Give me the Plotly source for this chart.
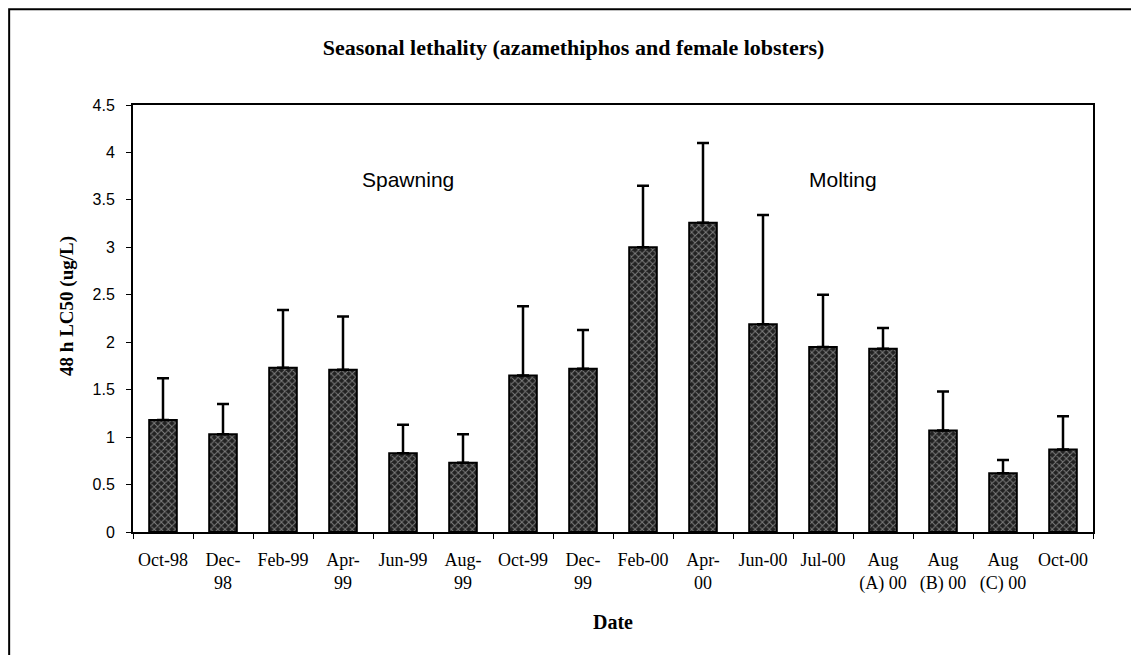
import plotly.graph_objects as go

categories = ["Oct-98", "Dec-<br>98", "Feb-99", "Apr-<br>99", "Jun-99", "Aug-<br>99",
              "Oct-99", "Dec-<br>99", "Feb-00", "Apr-<br>00", "Jun-00", "Jul-00",
              "Aug<br>(A) 00", "Aug<br>(B) 00", "Aug<br>(C) 00", "Oct-00"]
lc50 = [1.18, 1.03, 1.73, 1.71, 0.83, 0.73, 1.65, 1.72, 3.00, 3.26, 2.19, 1.95,
        1.93, 1.07, 0.62, 0.87]
upper = [1.62, 1.35, 2.34, 2.27, 1.13, 1.03, 2.38, 2.13, 3.65, 4.10, 3.34, 2.50,
         2.15, 1.48, 0.76, 1.22]
err_plus = [u - v for u, v in zip(upper, lc50)]
y_ticks = [0, 0.5, 1, 1.5, 2, 2.5, 3, 3.5, 4, 4.5]

serif = "Liberation Serif, Times New Roman, serif"
sans = "Liberation Sans, Arial, sans-serif"

fig = go.Figure()
fig.add_trace(go.Bar(
    x=categories, y=lc50, width=0.46,
    marker=dict(color="#222222", line=dict(color="black", width=2),
                pattern=dict(shape="x", fgcolor="#d8d8d8", size=5, solidity=0.35)),
    error_y=dict(type="data", symmetric=False, array=err_plus,
                 arrayminus=[0] * len(lc50), color="black", thickness=2.5, width=6),
))

fig.add_annotation(x=4.08, y=3.72, text="Spawning", showarrow=False,
                   font=dict(family=sans, size=21, color="black"))
fig.add_annotation(x=11.33, y=3.72, text="Molting", showarrow=False,
                   font=dict(family=sans, size=21, color="black"))

# y-axis title
fig.add_annotation(xref="paper", yref="paper", x=-0.069, y=0.529,
                   xanchor="center", yanchor="middle", textangle=-90,
                   text="<b>48 h LC50 (ug/L)</b>", showarrow=False,
                   font=dict(family=serif, size=19, color="black"))

# outer frame
fig.add_shape(type="rect", xref="paper", yref="paper",
              x0=-0.129, x1=1.2, y0=-0.5, y1=1.224,
              line=dict(color="black", width=2), layer="above")

fig.update_layout(
    width=1131, height=647,
    margin=dict(l=125, r=46, t=97, b=123),
    paper_bgcolor="white", plot_bgcolor="white",
    showlegend=False,
    title=dict(text="<b>Seasonal lethality (azamethiphos and female lobsters)</b>",
               x=0.5, xanchor="center", y=0.94, yanchor="middle",
               font=dict(family=serif, size=22, color="black")),
    xaxis=dict(type="category", showline=True, linecolor="black", linewidth=2,
               mirror=True, ticks="outside", ticklen=5, tickcolor="black",
               tickson="boundaries", showgrid=False,
               tickfont=dict(family=serif, size=18, color="black"),
               ticklabelstandoff=10,
               title=dict(text="<b>Date</b>", font=dict(family=serif, size=20, color="black"),
                          standoff=22)),
    yaxis=dict(range=[0, 4.5], tickvals=y_ticks, ticktext=[f"{v:g}" for v in y_ticks],
               showline=True, linecolor="black", linewidth=2, mirror=True,
               ticks="outside", ticklen=5, tickcolor="black", showgrid=False,
               zeroline=False, ticklabelstandoff=8,
               tickfont=dict(family=sans, size=16, color="black")),
)

fig.write_html("out.html")
